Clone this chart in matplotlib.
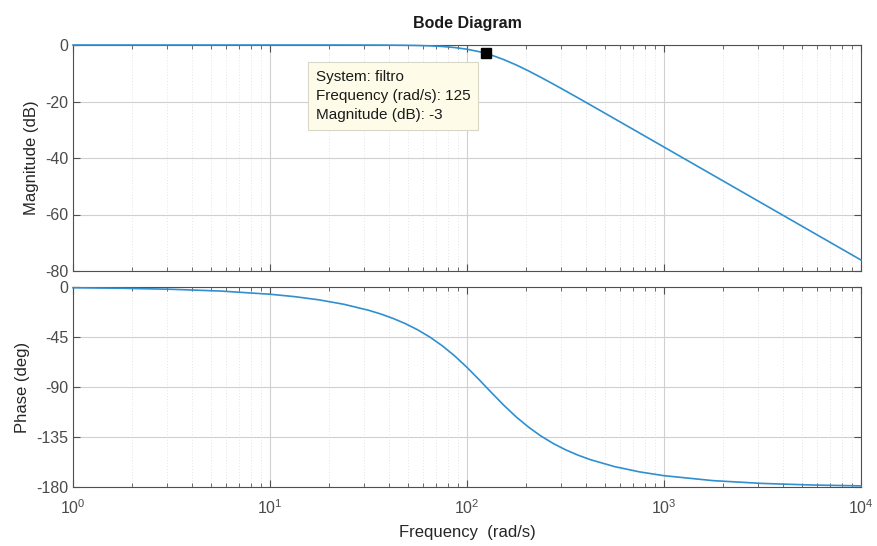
import matplotlib.pyplot as plt
from matplotlib.ticker import LogLocator, NullFormatter

plt.rcParams['font.family'] = ['Liberation Sans', 'DejaVu Sans']
plt.rcParams['axes.unicode_minus'] = False

# frequency samples (rad/s)
freq = [1.0, 1.78, 3.16, 5.62, 10.0, 13.34, 17.78, 23.71, 31.62, 36.52, 42.17,
        48.70, 56.23, 64.94, 74.99, 86.60, 100.0, 115.5, 133.4, 154.0, 177.8,
        205.4, 237.1, 273.8, 316.2, 365.2, 421.7, 562.3, 749.9, 1000.0, 1778.3,
        3162.3, 5623.4, 10000.0]
mag_db = [0.0, 0.0, 0.0, 0.0, 0.0, -0.001, -0.002, -0.006, -0.018, -0.031, -0.056,
          -0.099, -0.174, -0.305, -0.529, -0.900, -1.491, -2.377, -3.608, -5.189, -7.072,
          -9.182, -11.446, -13.808, -16.228, -18.683, -21.157, -26.134, -31.127, -36.125, -46.12,
          -56.12, -66.12, -76.12]
phase_deg = [-0.65, -1.15, -2.05, -3.65, -6.50, -8.68, -11.60, -15.55, -20.92, -24.30, -28.31,
             -33.00, -38.57, -45.18, -52.97, -62.03, -72.36, -83.60, -95.23, -106.54, -116.97,
             -126.15, -134.09, -140.80, -146.49, -151.27, -155.33, -161.70, -166.37, -169.82, -174.29,
             -176.80, -178.20, -178.99]

tip_freq = 125
tip_mag = -3

line_col = '#2f8fcf'
axis_col = '#505050'
label_col = '#4a4a4a'

fig = plt.figure(figsize=(8.77, 5.46), dpi=100)
ax1 = fig.add_axes([73 / 877, 1 - 271 / 546, 788 / 877, 226 / 546])
ax2 = fig.add_axes([73 / 877, 1 - 487 / 546, 788 / 877, 200 / 546])

for ax in (ax1, ax2):
    ax.set_xscale('log')
    ax.set_xlim(1, 1e4)
    ax.xaxis.set_major_locator(LogLocator(base=10, numticks=10))
    ax.xaxis.set_minor_locator(LogLocator(base=10, subs=range(2, 10), numticks=50))
    ax.xaxis.set_minor_formatter(NullFormatter())
    ax.grid(True, which='major', color='#d0d0d0', linewidth=0.8)
    ax.grid(True, which='minor', color='#e4e4e4', linewidth=0.7, linestyle=(0, (1, 2)))
    ax.tick_params(which='both', direction='in', top=True, right=True,
                   colors=axis_col, labelcolor=label_col, labelsize=11.5)
    ax.tick_params(which='major', length=5)
    ax.tick_params(which='minor', length=3)
    ax.tick_params(axis='x', pad=8)
    for s in ax.spines.values():
        s.set_color(axis_col)
        s.set_linewidth(0.8)
    ax.set_axisbelow(True)

ax1.plot(freq, mag_db, color=line_col, linewidth=1.2, clip_on=False, zorder=4)
ax1.set_ylim(-80, 0)
ax1.set_yticks([0, -20, -40, -60, -80])
ax1.tick_params(axis='x', labelbottom=False)
ax1.set_ylabel('Magnitude (dB)', fontsize=12, color='#262626', labelpad=4)
ax1.set_title('Bode Diagram', fontsize=11.5, fontweight='bold', color='#1a1a1a', pad=12)

ax1.plot([tip_freq], [tip_mag], marker='s', color='black', markersize=7, clip_on=False, zorder=5)
ax1.annotate(f'System: filtro\nFrequency (rad/s): {tip_freq}\nMagnitude (dB): {tip_mag}',
             xy=(316 / 877, 1 - 96 / 546), xycoords='figure fraction',
             ha='left', va='center', fontsize=11, color='#1a1a1a', linespacing=1.5,
             bbox=dict(boxstyle='square,pad=0.5', facecolor='#fefce8',
                       edgecolor='#d8d8c8', linewidth=0.8))

ax2.plot(freq, phase_deg, color=line_col, linewidth=1.2, clip_on=False, zorder=4)
ax2.set_ylim(-180, 0)
ax2.set_yticks([0, -45, -90, -135, -180])
ax2.set_ylabel('Phase (deg)', fontsize=12, color='#262626')
ax2.set_xlabel('Frequency  (rad/s)', fontsize=12, color='#262626', labelpad=6)

fig.savefig('out.png', dpi=100)
